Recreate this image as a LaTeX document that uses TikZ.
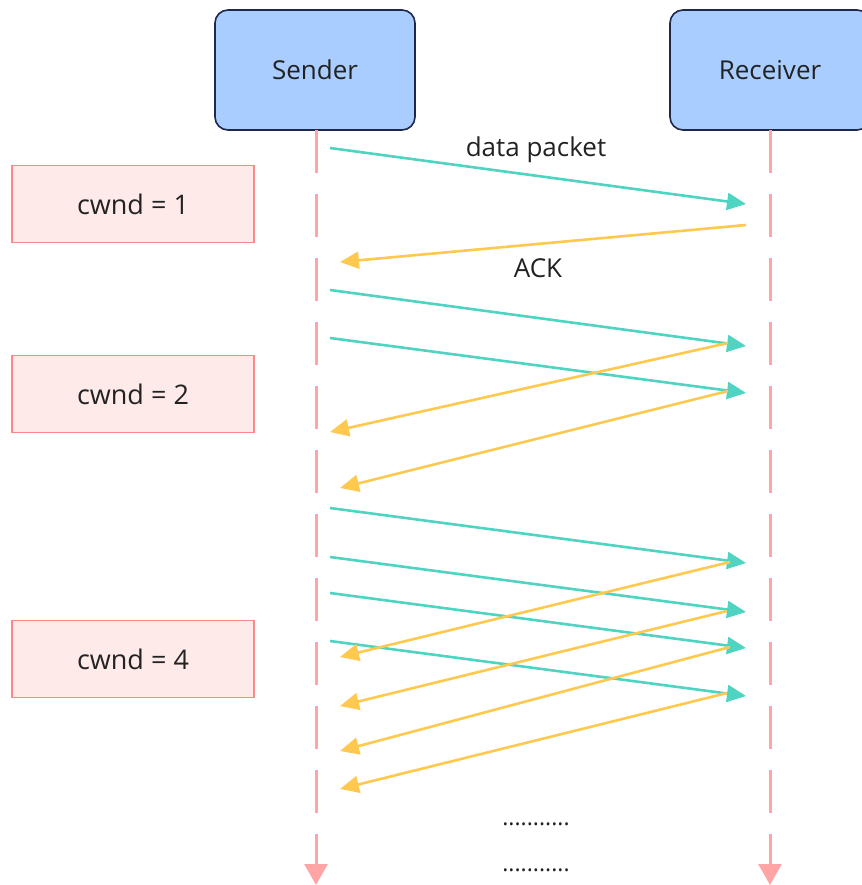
\documentclass[tikz,border=0pt]{standalone}
\usepackage{fontspec}
\setmainfont{Open Sans}
\usetikzlibrary{arrows.meta}
\definecolor{actfill}{RGB}{170,205,255}
\definecolor{actdraw}{RGB}{30,40,75}
\definecolor{lifec}{RGB}{255,165,165}
\definecolor{wfill}{RGB}{255,234,234}
\definecolor{wdraw}{RGB}{255,135,135}
\definecolor{datac}{RGB}{78,212,192}
\definecolor{ackc}{RGB}{255,201,80}
\definecolor{txt}{RGB}{34,34,34}
\tikzset{
  actor/.style={draw=actdraw, fill=actfill, line width=1.6pt, rounded corners=13pt,
    minimum width=200pt, minimum height=120pt, inner sep=0pt, text=txt,
    font=\fontsize{26}{30}\selectfont},
  wbox/.style={draw=wdraw, fill=wfill, line width=1.8pt,
    minimum width=242pt, minimum height=77pt, inner sep=0pt, text=txt,
    font=\fontsize{27}{31}\selectfont},
  life/.style={draw=lifec, line width=3pt, dash pattern=on 43pt off 21pt,
    -{Triangle[length=21pt,width=23pt]}},
  datamsg/.style={draw=datac, line width=2.6pt, -{Triangle[length=19pt,width=17pt]}},
  ackmsg/.style={draw=ackc, line width=2.6pt, -{Triangle[length=19pt,width=17pt]}},
  lbl/.style={text=txt, font=\fontsize{26}{30}\selectfont, inner sep=0pt},
  dotlbl/.style={text=txt, font=\fontsize{23}{27}\selectfont, inner sep=0pt},
}
\begin{document}
\begin{tikzpicture}[x=1pt,y=-1pt]
\useasboundingbox (0,0) rectangle (861,885);
% actors
\node[actor] (S) at (315,70) {Sender};
\node[actor] (R) at (770,70) {Receiver};
% lifelines
\coordinate (Send) at (316,885);
\coordinate (Rend) at (770,885);
\draw[life] (316,130) -- (Send);
\draw[life] (770,130) -- (Rend);
% cwnd boxes
\node[wbox] (w1) at (133,204) {cwnd = 1};
\node[wbox] (w2) at (133,394) {cwnd = 2};
\node[wbox] (w4) at (133,659) {cwnd = 4};
% message endpoints
\coordinate (d1s) at (330,148); \coordinate (d1e) at (746,204);
\coordinate (a1s) at (746,225); \coordinate (a1e) at (340,262);
\coordinate (d2s) at (330,290); \coordinate (d2e) at (746,346);
\coordinate (d3s) at (330,338); \coordinate (d3e) at (746,393);
\coordinate (a2s) at (728,343); \coordinate (a2e) at (330,432);
\coordinate (a3s) at (728,391); \coordinate (a3e) at (340,488);
\coordinate (d4s) at (330,508); \coordinate (d4e) at (746,563);
\coordinate (d5s) at (330,557); \coordinate (d5e) at (746,612);
\coordinate (d6s) at (330,593); \coordinate (d6e) at (746,648);
\coordinate (d7s) at (330,641); \coordinate (d7e) at (746,696);
\coordinate (a4s) at (730,562); \coordinate (a4e) at (340,657);
\coordinate (a5s) at (727,611); \coordinate (a5e) at (340,706);
\coordinate (a6s) at (730,647); \coordinate (a6e) at (340,751);
\coordinate (a7s) at (727,693); \coordinate (a7e) at (340,789);
% data messages
\draw[datamsg] (d1s) -- (d1e);
\draw[datamsg] (d2s) -- (d2e);
\draw[datamsg] (d3s) -- (d3e);
\draw[datamsg] (d4s) -- (d4e);
\draw[datamsg] (d5s) -- (d5e);
\draw[datamsg] (d6s) -- (d6e);
\draw[datamsg] (d7s) -- (d7e);
% acks
\draw[ackmsg] (a1s) -- (a1e);
\draw[ackmsg] (a2s) -- (a2e);
\draw[ackmsg] (a3s) -- (a3e);
\draw[ackmsg] (a4s) -- (a4e);
\draw[ackmsg] (a5s) -- (a5e);
\draw[ackmsg] (a6s) -- (a6e);
\draw[ackmsg] (a7s) -- (a7e);
% labels
\node[lbl] (ldata) at (536,150) {data packet};
\node[lbl] (lack) at (538,268) {ACK};
\node[dotlbl, anchor=base] (dots1) at (536,825) {...........};
\node[dotlbl, anchor=base] (dots2) at (536,871) {...........};
\end{tikzpicture}
\end{document}
